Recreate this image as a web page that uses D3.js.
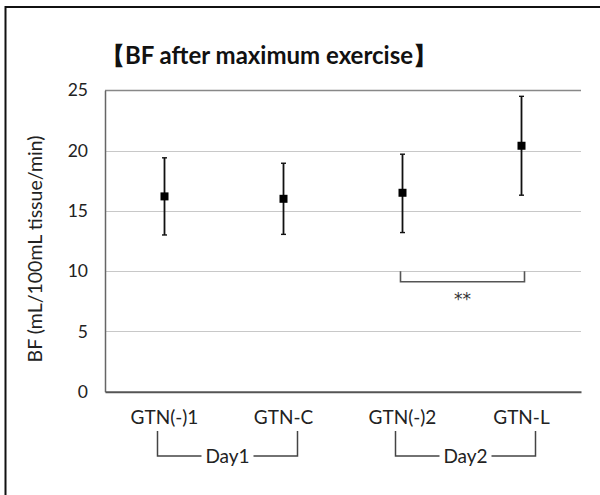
<!DOCTYPE html>
<html><head><meta charset="utf-8">
<script src="https://cdn.jsdelivr.net/npm/d3@7"></script>
<style>body{margin:0;background:#fff}svg{display:block}</style>
</head><body>
<script>
const categories = ["GTN(-)1","GTN-C","GTN(-)2","GTN-L"];
const means = [16.2, 16.0, 16.5, 20.4];
const upper = [19.4, 18.95, 19.7, 24.5];
const lower = [13.0, 13.05, 13.2, 16.3];
const yTicks = [0,5,10,15,20,25];
const groups = [{label:"Day1", from:0, to:1},{label:"Day2", from:2, to:3}];
const sig = {from:2, to:3, top:10, bottom:9.2, label:"**"};

const W=600,H=495;
const font = "Lato, 'Open Sans', sans-serif";
const svg = d3.select("body").append("svg").attr("width",W).attr("height",H);
svg.append("rect").attr("width",W).attr("height",H).attr("fill","#fff");
// partial frame
svg.append("path").attr("d","M5.5,495 V7 H600").attr("fill","none").attr("stroke","#111").attr("stroke-width",2);

const x = d3.scaleBand().domain(categories).range([105,581]);
const y = d3.scaleLinear().domain([0,25]).range([391.7,90.3]);

svg.append("text").attr("x",269).attr("y",64).attr("text-anchor","middle")
  .attr("font-family",font).attr("font-weight","bold").attr("font-size",24).attr("fill","#111")
  .text("【BF after maximum exercise】");

// grid
svg.append("g").selectAll("line").data(yTicks.filter(d=>d>0)).join("line")
  .attr("x1",105).attr("x2",581).attr("y1",d=>Math.round(y(d))+0.5).attr("y2",d=>Math.round(y(d))+0.5)
  .attr("stroke",d=>d===25?"#888":"#c8c8c8").attr("stroke-width",d=>d===25?1.5:1.2);

// y axis
const ya = svg.append("g").attr("transform","translate(105,0)")
  .call(d3.axisLeft(y).tickValues(yTicks).tickSize(0).tickPadding(17));
ya.select(".domain").attr("stroke","#666").attr("stroke-width",1.5);
ya.selectAll("text").attr("font-family",font).attr("font-size",17.5).attr("fill","#222");
// x axis
const xa = svg.append("g").attr("transform",`translate(0,${y(0)})`)
  .call(d3.axisBottom(x).tickSize(0).tickPadding(19));
xa.select(".domain").attr("stroke","#555").attr("stroke-width",2);
xa.selectAll("text").attr("font-family",font).attr("font-size",19).attr("fill","#222");

svg.append("text").attr("transform","translate(42,249) rotate(-90)").attr("text-anchor","middle")
  .attr("font-family",font).attr("font-size",19.5).attr("fill","#222")
  .text("BF (mL/100mL tissue/min)");

// error bars
const cx = i => x(categories[i]) + x.bandwidth()/2;
const eb = svg.append("g");
categories.forEach((c,i)=>{
  eb.append("line").attr("x1",cx(i)).attr("x2",cx(i)).attr("y1",y(upper[i])).attr("y2",y(lower[i]))
    .attr("stroke","#111").attr("stroke-width",1.8);
  [upper[i],lower[i]].forEach(v=>eb.append("line").attr("x1",cx(i)-2.5).attr("x2",cx(i)+2.5)
    .attr("y1",y(v)).attr("y2",y(v)).attr("stroke","#111").attr("stroke-width",1.4));
  eb.append("rect").attr("x",cx(i)-4).attr("y",y(means[i])-4).attr("width",8).attr("height",8).attr("fill","#000");
});

// significance bracket
const sx1 = cx(sig.from)-2, sx2 = cx(sig.to)+3;
svg.append("path").attr("d",`M${sx1},${y(sig.top)} V${y(sig.bottom)+1} H${sx2} V${y(sig.top)}`)
  .attr("fill","none").attr("stroke","#555").attr("stroke-width",1.6);
svg.append("text").attr("x",(sx1+sx2)/2).attr("y",305).attr("text-anchor","middle")
  .attr("font-family","'DejaVu Sans', sans-serif").attr("font-size",17).attr("fill","#333").text(sig.label);

// day group brackets
groups.forEach(g=>{
  const a = cx(g.from)-7, b = cx(g.to)+14, m=(a+b)/2, yb=456, yt=431;
  const half = 26;
  svg.append("path").attr("d",`M${a},${yt} V${yb} H${m-half} M${m+half},${yb} H${b} V${yt}`)
    .attr("fill","none").attr("stroke","#444").attr("stroke-width",1.5);
  svg.append("text").attr("x",m).attr("y",yb+7).attr("text-anchor","middle")
    .attr("font-family",font).attr("font-size",19).attr("fill","#222").text(g.label);
});
</script>
</body></html>
